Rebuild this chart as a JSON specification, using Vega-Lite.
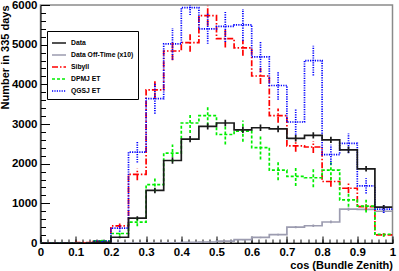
{
  "$schema": "https://vega.github.io/schema/vega-lite/v6.json",
  "width": 352,
  "height": 238,
  "autosize": {"type": "none"},
  "padding": {"left": 40.5, "top": 5, "right": 6.5, "bottom": 28},
  "config": {
    "font": "Liberation Sans",
    "view": {"stroke": "#8a8a8a", "strokeWidth": 1.5},
    "axis": {"grid": false, "labelFont": "Liberation Sans", "titleFont": "Liberation Sans"},
    "legend": {
      "orient": "none", "legendX": 6.5, "legendY": 26, "title": null,
      "strokeColor": "#000", "fillColor": "#fff", "padding": 4,
      "symbolType": "stroke", "symbolSize": 196,
      "labelFont": "Liberation Sans", "labelFontSize": 6.8, "labelFontWeight": "bold",
      "labelColor": "#000", "labelOffset": 4, "rowPadding": -0.8
    }
  },
  "data": {
    "values": [
      {"s":"Data Off-Time (x10)","lo":0.00,"mid":0.025,"y":0,"e":0},
      {"s":"Data Off-Time (x10)","lo":0.05,"mid":0.075,"y":0,"e":0},
      {"s":"Data Off-Time (x10)","lo":0.10,"mid":0.125,"y":0,"e":0},
      {"s":"Data Off-Time (x10)","lo":0.15,"mid":0.175,"y":0,"e":0},
      {"s":"Data Off-Time (x10)","lo":0.20,"mid":0.225,"y":0,"e":0},
      {"s":"Data Off-Time (x10)","lo":0.25,"mid":0.275,"y":0,"e":0},
      {"s":"Data Off-Time (x10)","lo":0.30,"mid":0.325,"y":0,"e":0},
      {"s":"Data Off-Time (x10)","lo":0.35,"mid":0.375,"y":5,"e":3},
      {"s":"Data Off-Time (x10)","lo":0.40,"mid":0.425,"y":15,"e":5},
      {"s":"Data Off-Time (x10)","lo":0.45,"mid":0.475,"y":25,"e":8},
      {"s":"Data Off-Time (x10)","lo":0.50,"mid":0.525,"y":45,"e":10},
      {"s":"Data Off-Time (x10)","lo":0.55,"mid":0.575,"y":85,"e":15},
      {"s":"Data Off-Time (x10)","lo":0.60,"mid":0.625,"y":140,"e":18},
      {"s":"Data Off-Time (x10)","lo":0.65,"mid":0.675,"y":210,"e":22},
      {"s":"Data Off-Time (x10)","lo":0.70,"mid":0.725,"y":400,"e":30},
      {"s":"Data Off-Time (x10)","lo":0.75,"mid":0.775,"y":435,"e":30},
      {"s":"Data Off-Time (x10)","lo":0.80,"mid":0.825,"y":530,"e":35},
      {"s":"Data Off-Time (x10)","lo":0.85,"mid":0.875,"y":855,"e":40},
      {"s":"Data Off-Time (x10)","lo":0.90,"mid":0.925,"y":850,"e":40},
      {"s":"Data Off-Time (x10)","lo":0.95,"mid":0.975,"y":800,"e":40},
      {"s":"Data Off-Time (x10)","lo":1.00,"y":800},

      {"s":"Sibyll","lo":0.00,"mid":0.025,"y":0,"e":0},
      {"s":"Sibyll","lo":0.05,"mid":0.075,"y":0,"e":0},
      {"s":"Sibyll","lo":0.10,"mid":0.125,"y":10,"e":10},
      {"s":"Sibyll","lo":0.15,"mid":0.175,"y":40,"e":20},
      {"s":"Sibyll","lo":0.20,"mid":0.225,"y":430,"e":60},
      {"s":"Sibyll","lo":0.25,"mid":0.275,"y":1730,"e":150},
      {"s":"Sibyll","lo":0.30,"mid":0.325,"y":3860,"e":220},
      {"s":"Sibyll","lo":0.35,"mid":0.375,"y":4840,"e":230},
      {"s":"Sibyll","lo":0.40,"mid":0.425,"y":5050,"e":230},
      {"s":"Sibyll","lo":0.45,"mid":0.475,"y":5730,"e":250},
      {"s":"Sibyll","lo":0.50,"mid":0.525,"y":5150,"e":220},
      {"s":"Sibyll","lo":0.55,"mid":0.575,"y":4920,"e":200},
      {"s":"Sibyll","lo":0.60,"mid":0.625,"y":4210,"e":200},
      {"s":"Sibyll","lo":0.65,"mid":0.675,"y":3210,"e":180},
      {"s":"Sibyll","lo":0.70,"mid":0.725,"y":2450,"e":150},
      {"s":"Sibyll","lo":0.75,"mid":0.775,"y":2420,"e":150},
      {"s":"Sibyll","lo":0.80,"mid":0.825,"y":1550,"e":130},
      {"s":"Sibyll","lo":0.85,"mid":0.875,"y":1380,"e":120},
      {"s":"Sibyll","lo":0.90,"mid":0.925,"y":915,"e":90},
      {"s":"Sibyll","lo":0.95,"mid":0.975,"y":205,"e":40},
      {"s":"Sibyll","lo":1.00,"y":205},

      {"s":"DPMJ ET","lo":0.00,"mid":0.025,"y":0,"e":0},
      {"s":"DPMJ ET","lo":0.05,"mid":0.075,"y":0,"e":0},
      {"s":"DPMJ ET","lo":0.10,"mid":0.125,"y":0,"e":0},
      {"s":"DPMJ ET","lo":0.15,"mid":0.175,"y":55,"e":30},
      {"s":"DPMJ ET","lo":0.20,"mid":0.225,"y":240,"e":60},
      {"s":"DPMJ ET","lo":0.25,"mid":0.275,"y":525,"e":100},
      {"s":"DPMJ ET","lo":0.30,"mid":0.325,"y":1470,"e":170},
      {"s":"DPMJ ET","lo":0.35,"mid":0.375,"y":2265,"e":220},
      {"s":"DPMJ ET","lo":0.40,"mid":0.425,"y":3025,"e":250},
      {"s":"DPMJ ET","lo":0.45,"mid":0.475,"y":3210,"e":240},
      {"s":"DPMJ ET","lo":0.50,"mid":0.525,"y":2735,"e":250},
      {"s":"DPMJ ET","lo":0.55,"mid":0.575,"y":2820,"e":270},
      {"s":"DPMJ ET","lo":0.60,"mid":0.625,"y":2405,"e":300},
      {"s":"DPMJ ET","lo":0.65,"mid":0.675,"y":1835,"e":250},
      {"s":"DPMJ ET","lo":0.70,"mid":0.725,"y":1680,"e":240},
      {"s":"DPMJ ET","lo":0.75,"mid":0.775,"y":1645,"e":240},
      {"s":"DPMJ ET","lo":0.80,"mid":0.825,"y":1835,"e":250},
      {"s":"DPMJ ET","lo":0.85,"mid":0.875,"y":1085,"e":170},
      {"s":"DPMJ ET","lo":0.90,"mid":0.925,"y":930,"e":160},
      {"s":"DPMJ ET","lo":0.95,"mid":0.975,"y":220,"e":60},
      {"s":"DPMJ ET","lo":1.00,"y":220},

      {"s":"QGSJ ET","lo":0.00,"mid":0.025,"y":0,"e":0},
      {"s":"QGSJ ET","lo":0.05,"mid":0.075,"y":0,"e":0},
      {"s":"QGSJ ET","lo":0.10,"mid":0.125,"y":0,"e":0},
      {"s":"QGSJ ET","lo":0.15,"mid":0.175,"y":50,"e":30},
      {"s":"QGSJ ET","lo":0.20,"mid":0.225,"y":375,"e":90},
      {"s":"QGSJ ET","lo":0.25,"mid":0.275,"y":2290,"e":260},
      {"s":"QGSJ ET","lo":0.30,"mid":0.325,"y":3640,"e":380},
      {"s":"QGSJ ET","lo":0.35,"mid":0.375,"y":5020,"e":400},
      {"s":"QGSJ ET","lo":0.40,"mid":0.425,"y":5935,"e":190},
      {"s":"QGSJ ET","lo":0.45,"mid":0.475,"y":5400,"e":380},
      {"s":"QGSJ ET","lo":0.50,"mid":0.525,"y":5460,"e":390},
      {"s":"QGSJ ET","lo":0.55,"mid":0.575,"y":5500,"e":400},
      {"s":"QGSJ ET","lo":0.60,"mid":0.625,"y":4690,"e":380},
      {"s":"QGSJ ET","lo":0.65,"mid":0.675,"y":3970,"e":360},
      {"s":"QGSJ ET","lo":0.70,"mid":0.725,"y":3050,"e":320},
      {"s":"QGSJ ET","lo":0.75,"mid":0.775,"y":4600,"e":375},
      {"s":"QGSJ ET","lo":0.80,"mid":0.825,"y":2230,"e":250},
      {"s":"QGSJ ET","lo":0.85,"mid":0.875,"y":2510,"e":250},
      {"s":"QGSJ ET","lo":0.90,"mid":0.925,"y":1440,"e":190},
      {"s":"QGSJ ET","lo":0.95,"mid":0.975,"y":855,"e":100},
      {"s":"QGSJ ET","lo":1.00,"y":855},

      {"s":"Data","lo":0.00,"mid":0.025,"y":0,"e":0},
      {"s":"Data","lo":0.05,"mid":0.075,"y":0,"e":0},
      {"s":"Data","lo":0.10,"mid":0.125,"y":0,"e":0},
      {"s":"Data","lo":0.15,"mid":0.175,"y":15,"e":8},
      {"s":"Data","lo":0.20,"mid":0.225,"y":145,"e":25},
      {"s":"Data","lo":0.25,"mid":0.275,"y":625,"e":50},
      {"s":"Data","lo":0.30,"mid":0.325,"y":1325,"e":70},
      {"s":"Data","lo":0.35,"mid":0.375,"y":2080,"e":80},
      {"s":"Data","lo":0.40,"mid":0.425,"y":2620,"e":80},
      {"s":"Data","lo":0.45,"mid":0.475,"y":2940,"e":80},
      {"s":"Data","lo":0.50,"mid":0.525,"y":3025,"e":80},
      {"s":"Data","lo":0.55,"mid":0.575,"y":2850,"e":80},
      {"s":"Data","lo":0.60,"mid":0.625,"y":2905,"e":80},
      {"s":"Data","lo":0.65,"mid":0.675,"y":2875,"e":80},
      {"s":"Data","lo":0.70,"mid":0.725,"y":2640,"e":80},
      {"s":"Data","lo":0.75,"mid":0.775,"y":2715,"e":80},
      {"s":"Data","lo":0.80,"mid":0.825,"y":2600,"e":80},
      {"s":"Data","lo":0.85,"mid":0.875,"y":2350,"e":80},
      {"s":"Data","lo":0.90,"mid":0.925,"y":1870,"e":70},
      {"s":"Data","lo":0.95,"mid":0.975,"y":905,"e":50},
      {"s":"Data","lo":1.00,"y":905}
    ]
  },
  "layer": [
    {
      "mark": {"type": "line", "interpolate": "step-after", "clip": true},
      "encoding": {
        "x": {
          "field": "lo", "type": "quantitative",
          "scale": {"domain": [0, 1], "nice": false, "zero": false},
          "axis": {
            "values": [0, 0.1, 0.2, 0.3, 0.4, 0.5, 0.6, 0.7, 0.8, 0.9, 1],
            "format": "~g", "tickSize": -7, "tickColor": "#000", "domainColor": "#000",
            "labelPadding": 10, "labelFontSize": 11.5, "labelFontWeight": "bold", "labelColor": "#000",
            "labelFlush": false,
            "title": "cos (Bundle Zenith)", "titleAnchor": "end", "titleFontSize": 11,
            "titleFontWeight": "bold", "titleColor": "#000", "titlePadding": 2
          }
        },
        "y": {
          "field": "y", "type": "quantitative",
          "scale": {"domain": [0, 6000], "nice": false},
          "axis": {
            "values": [0, 1000, 2000, 3000, 4000, 5000, 6000],
            "format": "d", "tickSize": -9, "tickColor": "#000", "domainColor": "#000",
            "labelPadding": 12.5, "labelFontSize": 11.5, "labelFontWeight": "bold", "labelColor": "#000",
            "labelFlush": false,
            "title": "Number in 335 days", "titleAnchor": "end", "titleFontSize": 11,
            "titleFontWeight": "bold", "titleColor": "#000", "titlePadding": 1
          }
        },
        "color": {
          "field": "s", "type": "nominal",
          "scale": {
            "domain": ["Data", "Data Off-Time (x10)", "Sibyll", "DPMJ ET", "QGSJ ET"],
            "range": ["#1a1a1a", "#9c9cb0", "#ff0000", "#00ee00", "#0000ff"]
          }
        },
        "strokeDash": {
          "field": "s", "type": "nominal",
          "scale": {
            "domain": ["Data", "Data Off-Time (x10)", "Sibyll", "DPMJ ET", "QGSJ ET"],
            "range": [[1, 0], [1, 0], [6, 2, 1.5, 2], [3, 2], [1.2, 1.2]]
          }
        },
        "strokeWidth": {
          "field": "s", "type": "nominal",
          "scale": {
            "domain": ["Data", "Data Off-Time (x10)", "Sibyll", "DPMJ ET", "QGSJ ET"],
            "range": [1.7, 1.7, 1.2, 1.2, 1.2]
          }
        }
      }
    },
    {
      "transform": [{"filter": "datum.e > 0"}],
      "mark": {"type": "errorbar", "clip": true},
      "encoding": {
        "x": {
          "field": "mid", "type": "quantitative",
          "axis": {
            "orient": "bottom",
            "values": [0,0.02,0.04,0.06,0.08,0.1,0.12,0.14,0.16,0.18,0.2,0.22,0.24,0.26,0.28,0.3,0.32,0.34,0.36,0.38,0.4,0.42,0.44,0.46,0.48,0.5,0.52,0.54,0.56,0.58,0.6,0.62,0.64,0.66,0.68,0.7,0.72,0.74,0.76,0.78,0.8,0.82,0.84,0.86,0.88,0.9,0.92,0.94,0.96,0.98,1],
            "labels": false, "domain": false, "tickSize": -4, "tickColor": "#000", "title": null
          }
        },
        "y": {
          "field": "y", "type": "quantitative",
          "axis": {
            "orient": "left",
            "values": [0,200,400,600,800,1000,1200,1400,1600,1800,2000,2200,2400,2600,2800,3000,3200,3400,3600,3800,4000,4200,4400,4600,4800,5000,5200,5400,5600,5800,6000],
            "labels": false, "domain": false, "tickSize": -5, "tickColor": "#000", "title": null
          }
        },
        "yError": {"field": "e"},
        "color": {"field": "s", "type": "nominal"},
        "strokeDash": {"field": "s", "type": "nominal"},
        "strokeWidth": {"field": "s", "type": "nominal"}
      }
    }
  ],
  "resolve": {"axis": {"x": "independent", "y": "independent"}}
}
